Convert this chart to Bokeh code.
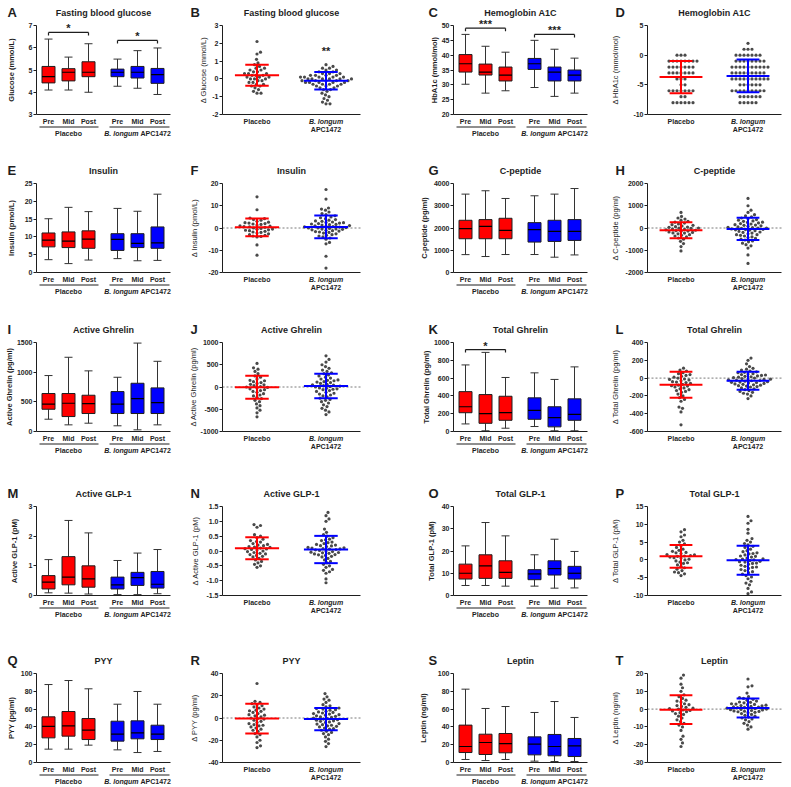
from bokeh.plotting import figure
from bokeh.models import Range1d, FixedTicker, Label, Arrow, ColumnDataSource
from bokeh.layouts import row, column
from bokeh.embed import file_html
from bokeh.resources import INLINE

# ======================= DATA =======================
timepoints = ["Pre", "Mid", "Post", "Pre", "Mid", "Post"]
group_placebo = "Placebo"
group_apc_italic = "B. longum"
group_apc_strain = "APC1472"

# ---- A  Fasting blood glucose (box: whisker low, Q1, median, Q3, whisker high)
glu_ticks = [3, 4, 5, 6, 7]
glu_lo = [4.10, 4.10, 4.00, 4.27, 4.18, 3.90]
glu_q1 = [4.42, 4.51, 4.70, 4.70, 4.64, 4.40]
glu_med = [4.70, 4.90, 4.90, 4.90, 4.90, 4.79]
glu_q3 = [5.16, 5.06, 5.37, 5.04, 5.16, 5.07]
glu_hi = [6.39, 5.58, 6.18, 5.49, 5.87, 5.99]
glu_sig = [(0, 2, 6.69, "*"), (3, 5, 6.33, "*")]

# ---- B  delta glucose
dglu_ticks = [-2, -1, 0, 1, 2, 3]
dglu_placebo = [2.1, 1.5, 1.4, 1.1, 0.9, 0.8, 0.7, 0.6, 0.6, 0.5, 0.5, 0.4, 0.4, 0.3, 0.3, 0.3, 0.2, 0.2, 0.2,
                0.1, 0.1, 0.1, 0.0, 0.0, 0.0, -0.1, -0.1, -0.2, -0.2, -0.3, -0.3, -0.4, -0.4, -0.5, -0.6, -0.7,
                -0.8, -0.8]
dglu_apc = [0.8, 0.7, 0.6, 0.6, 0.5, 0.5, 0.4, 0.4, 0.3, 0.3, 0.3, 0.2, 0.2, 0.2, 0.2, 0.1, 0.1, 0.1, 0.1, 0.1,
            0.0, 0.0, 0.0, 0.0, 0.0, 0.0, -0.1, -0.1, -0.1, -0.1, -0.1, -0.2, -0.2, -0.2, -0.2, -0.2, -0.3, -0.3,
            -0.3, -0.3, -0.4, -0.4, -0.4, -0.5, -0.5, -0.6, -0.6, -0.7, -0.8, -0.9, -1.0, -1.1, -1.2, -1.3, -1.4,
            -1.4]
dglu_mean = [0.20, -0.10]
dglu_sd = [0.59, 0.49]
dglu_star = (2, 1.55, "**")

# ---- C  Hemoglobin A1C
hba_ticks = [20, 25, 30, 35, 40, 45, 50]
hba_lo = [30.2, 27.2, 28.0, 29.1, 26.1, 27.2]
hba_q1 = [34.3, 33.3, 31.3, 35.2, 31.3, 31.3]
hba_med = [37.1, 34.3, 33.3, 37.1, 34.3, 33.3]
hba_q3 = [40.2, 37.0, 36.0, 38.9, 36.0, 35.0]
hba_hi = [47.0, 43.0, 41.0, 45.0, 42.0, 39.0]
hba_sig = [(0, 2, 49.1, "***"), (3, 5, 47.0, "***")]

# ---- D  delta HbA1c
dhba_ticks = [-10, -5, 0, 5]
dhba_placebo = [0, 0, 0, -1, -1, -1, -1, -1, -1, -1, -1, -2, -2, -2, -2, -2, -2, -2, -3, -3, -3, -3, -3, -3, -3,
                -4, -4, -4, -5, -5, -6, -6, -6, -6, -6, -6, -6, -7, -7, -8, -8, -8, -8, -8, -8]
dhba_apc = [2, 1, 1, 1, 0, 0, 0, 0, 0, 0, 0, -1, -1, -1, -1, -1, -1, -1, -1, -2, -2, -2, -2, -2, -2, -2, -2, -2,
            -2, -3, -3, -3, -3, -3, -3, -3, -3, -3, -4, -4, -4, -4, -4, -4, -4, -4, -4, -4, -5, -5, -5, -5, -5,
            -5, -6, -6, -6, -6, -6, -6, -6, -6, -6, -7, -7, -7, -7, -7, -7, -8, -8, -8, -8, -8]
dhba_mean = [-3.7, -3.5]
dhba_sd = [2.7, 2.75]

# ---- E  Insulin
ins_ticks = [0, 5, 10, 15, 20, 25]
ins_lo = [3.6, 2.5, 3.5, 3.9, 3.3, 3.4]
ins_q1 = [7.2, 7.0, 6.8, 6.2, 7.0, 6.8]
ins_med = [9.1, 8.8, 9.4, 9.3, 8.2, 8.3]
ins_q3 = [11.1, 11.4, 11.7, 10.9, 10.9, 12.8]
ins_hi = [15.1, 18.3, 17.1, 18.0, 17.2, 22.0]

# ---- F  delta insulin
dins_ticks = [-20, -10, 0, 10, 20]
dins_placebo = [14.0, 8.2, 4.5, 4.2, 3.8, 3.5, 3.0, 2.6, 2.4, 2.2, 2.0, 1.8, 1.6, 1.3, 1.0, 0.8, 0.6, 0.5, 0.3,
                0.0, -0.2, -0.5, -0.6, -0.8, -1.0, -1.2, -1.5, -1.8, -2.0, -2.3, -2.6, -3.0, -3.3, -3.6, -3.8,
                -4.0, -7.6, -12.2]
dins_apc = [17.3, 13.0, 9.0, 8.5, 8.0, 7.2, 6.5, 6.0, 5.5, 5.0, 4.6, 4.2, 3.8, 3.5, 3.2, 3.0, 2.7, 2.5, 2.4, 2.2,
            2.0, 1.8, 1.6, 1.5, 1.3, 1.1, 1.0, 0.8, 0.6, 0.5, 0.4, 0.2, 0.0, 0.0, -0.2, -0.4, -0.5, -0.6, -0.8,
            -1.0, -1.2, -1.4, -1.6, -1.8, -2.0, -2.3, -2.6, -3.0, -3.3, -3.6, -4.0, -4.5, -5.0, -6.5, -7.1,
            -12.7, -18.0]
dins_mean = [0.3, 0.5]
dins_sd = [4.0, 5.1]

# ---- G  C-peptide
cpep_ticks = [0, 1000, 2000, 3000, 4000]
cpep_lo = [804, 718, 808, 808, 688, 790]
cpep_q1 = [1517, 1517, 1517, 1367, 1397, 1442]
cpep_med = [1970, 2075, 1894, 1925, 1849, 1849]
cpep_q3 = [2347, 2377, 2437, 2241, 2347, 2377]
cpep_hi = [3523, 3674, 3327, 3448, 3523, 3774]

# ---- H  delta C-peptide
dcpep_ticks = [-2000, -1000, 0, 1000, 2000]
dcpep_placebo = [700, 520, 450, 400, 350, 300, 260, 220, 180, 150, 120, 90, 60, 40, 30, 0, -10, -20, -50, -60,
                 -80, -100, -120, -140, -150, -180, -200, -220, -230, -260, -300, -330, -360, -400, -450, -500,
                 -600, -700, -835, -1030]
dcpep_apc = [1330, 1000, 800, 700, 600, 550, 500, 450, 420, 380, 350, 320, 300, 260, 250, 230, 200, 180, 150, 130,
             120, 100, 80, 50, 30, 20, 0, -10, -20, -40, -60, -70, -80, -100, -120, -150, -180, -200, -230, -260,
             -300, -300, -330, -360, -400, -430, -460, -500, -540, -580, -620, -680, -750, -800, -900, -1210,
             -1590]
dcpep_mean = [-100, -40]
dcpep_sd = [360, 500]

# ---- I  Active ghrelin
agh_ticks = [0, 500, 1000, 1500]
agh_lo = [207, 112, 140, 96, 28, 112]
agh_q1 = [375, 252, 303, 303, 303, 303]
agh_med = [460, 476, 471, 460, 555, 488]
agh_q3 = [640, 640, 611, 673, 813, 735]
agh_hi = [943, 1251, 1022, 914, 1490, 1183]

# ---- J  delta active ghrelin
dagh_ticks = [-1000, -500, 0, 500, 1000]
dagh_placebo = [530, 430, 400, 350, 300, 250, 220, 180, 150, 140, 120, 100, 80, 60, 50, 30, 10, 0, -10, -20, -40,
                -60, -80, -100, -120, -150, -180, -200, -230, -260, -300, -330, -380, -420, -470, -520, -580, -670]
dagh_apc = [700, 620, 560, 500, 460, 420, 380, 350, 320, 300, 270, 250, 220, 200, 180, 160, 150, 140, 120, 110,
            100, 80, 60, 50, 40, 30, 20, 10, 0, -20, -30, -40, -50, -60, -80, -100, -120, -140, -160, -180, -200,
            -220, -250, -280, -300, -330, -360, -400, -440, -480, -520, -560, -620]
dagh_mean = [-5, 25]
dagh_sd = [260, 275]

# ---- K  Total ghrelin
tgh_ticks = [0, 200, 400, 600, 800, 1000]
tgh_lo = [85, 8, 37, 56, 8, 8]
tgh_q1 = [211, 92, 126, 137, 52, 126]
tgh_med = [278, 200, 211, 237, 156, 193]
tgh_q3 = [448, 415, 396, 378, 278, 367]
tgh_hi = [748, 889, 607, 659, 585, 726]
tgh_sig = [(0, 2, 920, "*")]

# ---- L  delta total ghrelin
dtgh_ticks = [-600, -400, -200, 0, 200, 400]
dtgh_placebo = [112, 90, 80, 60, 50, 40, 30, 20, 10, 0, -10, -15, -20, -30, -40, -45, -50, -60, -70, -80, -85,
                -90, -100, -110, -120, -130, -140, -150, -160, -180, -200, -220, -240, -260, -325, -340, -380,
                -525]
dtgh_apc = [225, 200, 160, 130, 110, 100, 90, 80, 70, 65, 60, 50, 45, 40, 35, 30, 25, 20, 15, 10, 5, 0, -5, -10,
            -12, -15, -20, -25, -28, -30, -35, -40, -45, -48, -50, -55, -60, -65, -70, -75, -80, -85, -90, -95,
            -100, -110, -120, -130, -140, -150, -160, -170, -180, -200, -230]
dtgh_mean = [-75, -30]
dtgh_sd = [145, 100]

# ---- M  Active GLP-1
aglp_ticks = [0, 1, 2, 3]
aglp_lo = [0.09, 0.08, 0.05, 0.03, 0.03, 0.06]
aglp_q1 = [0.22, 0.36, 0.28, 0.22, 0.34, 0.25]
aglp_med = [0.45, 0.62, 0.56, 0.36, 0.60, 0.38]
aglp_q3 = [0.67, 1.31, 1.00, 0.62, 0.78, 0.81]
aglp_hi = [1.21, 2.53, 2.11, 1.18, 1.43, 1.55]

# ---- N  delta active GLP-1
daglp_ticks = [-1.5, -1.0, -0.5, 0.0, 0.5, 1.0, 1.5]
daglp_placebo = [0.89, 0.86, 0.80, 0.55, 0.50, 0.45, 0.40, 0.35, 0.32, 0.30, 0.25, 0.22, 0.20, 0.18, 0.15, 0.13,
                 0.12, 0.10, 0.08, 0.07, 0.05, 0.03, 0.00, -0.02, -0.05, -0.08, -0.10, -0.12, -0.15, -0.18, -0.20,
                 -0.25, -0.30, -0.35, -0.40, -0.45, -0.50, -0.55]
daglp_apc = [1.30, 1.19, 1.08, 1.00, 0.74, 0.63, 0.55, 0.50, 0.45, 0.40, 0.38, 0.35, 0.30, 0.28, 0.25, 0.22, 0.20,
             0.18, 0.17, 0.15, 0.12, 0.11, 0.10, 0.08, 0.07, 0.06, 0.05, 0.04, 0.02, 0.00, -0.02, -0.04, -0.05,
             -0.06, -0.08, -0.10, -0.12, -0.13, -0.15, -0.18, -0.20, -0.25, -0.30, -0.35, -0.40, -0.45, -0.50,
             -0.55, -0.62, -0.65, -0.70, -0.75, -0.94, -1.07]
daglp_mean = [0.09, 0.05]
daglp_sd = [0.37, 0.46]

# ---- O  Total GLP-1
tglp_ticks = [0, 10, 20, 30, 40]
tglp_lo = [4.5, 4.5, 4.2, 4.2, 3.3, 3.4]
tglp_q1 = [7.4, 7.7, 7.7, 7.1, 9.2, 7.4]
tglp_med = [10.0, 13.3, 10.4, 9.7, 12.1, 10.0]
tglp_q3 = [14.1, 18.3, 15.6, 11.6, 15.6, 13.1]
tglp_hi = [22.3, 32.8, 26.8, 18.3, 25.3, 19.8]

# ---- P  delta total GLP-1
dtglp_ticks = [-10, -5, 0, 5, 10, 15]
dtglp_placebo = [8.5, 7.9, 7.0, 6.5, 5.5, 5.0, 4.5, 4.0, 3.5, 3.0, 2.7, 2.4, 2.1, 2.0, 1.8, 1.5, 1.4, 1.2, 1.1,
                 1.0, 0.8, 0.6, 0.5, 0.2, 0.0, -0.3, -0.6, -0.8, -1.0, -1.4, -1.8, -2.2, -2.6, -3.0, -3.4, -3.6,
                 -3.9, -4.4]
dtglp_apc = [12.2, 11.0, 10.3, 8.6, 7.5, 6.0, 5.5, 5.0, 4.6, 4.2, 3.8, 3.5, 3.0, 2.6, 2.3, 2.0, 1.8, 1.7, 1.4,
             1.1, 1.0, 0.8, 0.5, 0.3, 0.2, 0.1, 0.0, -0.2, -0.4, -0.5, -0.6, -0.9, -1.0, -1.2, -1.5, -1.8, -2.0,
             -2.1, -2.4, -2.7, -3.0, -3.3, -3.6, -4.0, -4.4, -4.8, -5.3, -6.0, -6.5, -7.0, -8.0, -9.0, -9.5]
dtglp_mean = [1.0, -0.1]
dtglp_sd = [3.2, 4.1]

# ---- Q  PYY
pyy_ticks = [0, 20, 40, 60, 80, 100]
pyy_lo = [15.0, 15.0, 19.5, 14.2, 11.2, 12.4]
pyy_q1 = [27.7, 29.6, 25.8, 24.0, 26.6, 25.8]
pyy_med = [40.5, 41.2, 36.3, 31.8, 33.3, 31.8]
pyy_q3 = [51.3, 57.3, 49.4, 46.4, 46.8, 41.9]
pyy_hi = [87.6, 92.1, 82.8, 65.5, 79.8, 65.5]

# ---- R  delta PYY
dpyy_ticks = [-40, -20, 0, 20, 40]
dpyy_placebo = [31, 15, 14, 13, 12, 11, 10, 9, 8, 7, 6.5, 6, 5, 4, 3, 2.5, 2, 1, 0, -0.5, -1, -2, -3, -4, -5, -6,
                -6.5, -7, -8, -9, -10, -11, -12, -14, -15, -17, -20, -22, -25, -26.6]
dpyy_apc = [22, 19, 17, 16, 14, 12, 11, 10, 9, 8.5, 8, 7.5, 7, 6, 5.5, 5, 4.5, 4, 3.5, 3, 2.5, 2, 1.5, 1, 0.5, 0,
            -0.5, -1, -1.5, -2, -2.5, -3, -3.5, -4, -5, -5.5, -6, -6.5, -7, -7.5, -8, -9, -9.5, -10, -11, -12,
            -13, -14, -15, -17, -19, -21, -23, -25.7]
dpyy_mean = [-0.5, -1.0]
dpyy_sd = [13.4, 10.0]

# ---- S  Leptin
lep_ticks = [0, 20, 40, 60, 80, 100]
lep_lo = [3.4, 2.2, 3.4, 1.5, 1.1, 1.1]
lep_q1 = [11.2, 9.0, 10.9, 8.6, 7.5, 6.7]
lep_med = [18.0, 22.5, 21.3, 20.6, 18.0, 18.7]
lep_q3 = [42.0, 31.8, 32.6, 28.8, 31.5, 27.0]
lep_hi = [82.4, 60.7, 62.9, 56.2, 68.5, 50.6]

# ---- T  delta leptin
dlep_ticks = [-30, -20, -10, 0, 10, 20]
dlep_placebo = [19.1, 17.4, 14, 12, 10, 8, 7, 6, 5, 4.5, 4, 3, 2.5, 2, 1.5, 1, 0.5, 0.3, 0, -0.5, -0.8, -1, -1.5,
                -2, -2.5, -3, -4, -5, -6, -7, -8, -9, -10, -12, -15.2, -17, -19, -21]
dlep_apc = [16.9, 13.1, 12.5, 9, 7, 6.5, 6, 5.5, 5, 4.5, 4, 3.8, 3.5, 3, 2.8, 2.6, 2.5, 2.2, 2, 1.8, 1.5, 1.2,
            1.1, 1, 0.8, 0.5, 0.3, 0.2, 0, -0.2, -0.3, -0.5, -0.8, -1, -1.2, -1.3, -1.5, -1.8, -2, -2.5, -3, -3.5,
            -4, -4.5, -5, -5.5, -6, -7, -8, -9, -10, -11.3]
dlep_mean = [-0.3, 0.6]
dlep_sd = [8.1, 5.3]

# ======================= STYLE / LAYOUT =======================
FONT = "Liberation Sans"
RED = "#ff0000"
BLUE = "#0000ff"
INK = "#1e1e1e"
WHISK = "#333333"
DOT = "#4a4a4a"

BOX_POS = [0, 1, 2, 3.45, 4.45, 5.45]
BOX_XR = (-0.6, 6.1)
DELTA_XR = (0.5, 2.5)
FH = 89
# (row height, space above the plotting area)
ROWS = [(161, 25), (159, 22), (164, 22), (167, 22), (134, 22)]
COLS = [dict(W=188, left=36, right=18, ldx=-29),
        dict(W=207, left=34, right=35, ldx=-32),
        dict(W=195, left=58, right=3, ldx=-25),
        dict(W=193, left=57, right=2, ldx=-32)]


def fmt_g(t):
    return "%g" % t


def fmt_1(t):
    return "%.1f" % t


def make_fig(c, rw, xr, yr):
    # The frame fills the whole canvas; the plotting area (xr x yr) sits inside it at the
    # wanted pixel offsets, and the axes are pinned to its edges with fixed_location/bounds.
    H, top = rw
    fw = c["W"] - c["left"] - c["right"]
    bottom = H - top - FH
    xpp = (xr[1] - xr[0]) / fw
    ypp = (yr[1] - yr[0]) / FH
    x_ext = (xr[0] - c["left"] * xpp, xr[1] + c["right"] * xpp)
    y_ext = (yr[0] - bottom * ypp, yr[1] + top * ypp)
    p = figure(width=c["W"], height=H, x_range=Range1d(*x_ext), y_range=Range1d(*y_ext),
               output_backend="svg", toolbar_location=None,
               min_border_left=0, min_border_right=0, min_border_top=0, min_border_bottom=0)
    p.xgrid.visible = False
    p.ygrid.visible = False
    p.outline_line_color = None
    p.background_fill_color = "white"
    p.border_fill_color = "white"
    p.yaxis[0].fixed_location = xr[0]
    p.yaxis[0].bounds = (yr[0], yr[1])
    p.xaxis[0].fixed_location = yr[0]
    p.xaxis[0].bounds = (xr[0], xr[1])
    return p


def lab(p, x, y, text, dx=0, dy=0, size="7px", style="bold", align="center", baseline="middle", color=INK):
    p.add_layout(Label(x=x, y=y, x_offset=dx, y_offset=dy, text=text, text_font=FONT,
                       text_font_size=size, text_font_style=style, text_align=align,
                       text_baseline=baseline, text_color=color))


def style_axes(p, ylabel, yticks, yfmt, ystand, label_style, xticks, xlabels):
    ya = p.yaxis[0]
    ya.ticker = FixedTicker(ticks=yticks, minor_ticks=[])
    ya.major_label_overrides = {t: yfmt(t) for t in yticks}
    ya.axis_label = ylabel
    ya.axis_label_text_font = FONT
    ya.axis_label_text_font_size = "7.5px"
    ya.axis_label_text_font_style = label_style
    ya.axis_label_text_color = INK
    ya.axis_label_standoff = int(ystand)
    ya.major_label_text_font = FONT
    ya.major_label_text_font_size = "7px"
    ya.major_label_text_font_style = "bold"
    ya.major_label_text_color = INK
    ya.major_label_standoff = 1
    ya.major_tick_out = 3
    ya.major_tick_in = 0
    ya.minor_tick_line_color = None
    ya.axis_line_color = INK
    ya.major_tick_line_color = INK
    xa = p.xaxis[0]
    xa.ticker = FixedTicker(ticks=xticks, minor_ticks=[])
    xa.major_label_overrides = {t: s for t, s in zip(xticks, xlabels)}
    xa.major_label_text_font = FONT
    xa.major_label_text_font_size = "7px"
    xa.major_label_text_font_style = "bold"
    xa.major_label_text_color = INK
    xa.major_label_standoff = 3
    xa.major_tick_out = 0
    xa.major_tick_in = 0
    xa.major_tick_line_color = None
    xa.minor_tick_line_color = None
    xa.axis_line_color = INK


def headers(p, c, xr, y1, letter, title):
    lab(p, xr[0], y1, letter, dx=c["ldx"], dy=13, size="13px", align="left")
    lab(p, (xr[0] + xr[1]) / 2, y1, title, dy=12.5, size="9px")


def box_panel(c, rw, letter, title, ylabel, ticks, lo, q1, med, q3, hi, sig, ystand):
    y0, y1 = ticks[0], ticks[-1]
    p = make_fig(c, rw, BOX_XR, (y0, y1))
    dpp = (y1 - y0) / FH  # data units per pixel (vertical)
    style_axes(p, ylabel, ticks, fmt_g, ystand, "bold", BOX_POS, timepoints)
    src = ColumnDataSource(dict(
        x=BOX_POS, xl=[x - 0.2 for x in BOX_POS], xr=[x + 0.2 for x in BOX_POS],
        bl=[x - 0.325 for x in BOX_POS], br=[x + 0.325 for x in BOX_POS],
        lo=lo, q1=q1, med=med, q3=q3, hi=hi, color=[RED] * 3 + [BLUE] * 3))
    for a, b in (("q3", "hi"), ("lo", "q1")):
        p.segment(x0="x", y0=a, x1="x", y1=b, source=src, line_color=WHISK, line_width=1)
    for yk in ("hi", "lo"):
        p.segment(x0="xl", y0=yk, x1="xr", y1=yk, source=src, line_color=WHISK, line_width=1)
    p.vbar(x="x", width=0.65, bottom="q1", top="q3", source=src, fill_color="color",
           line_color=INK, line_width=1)
    p.segment(x0="bl", y0="med", x1="br", y1="med", source=src, line_color="black", line_width=1.2)
    for (i, j, yb, txt) in sig:
        xa, xb = BOX_POS[i], BOX_POS[j]
        tick = 3 * dpp
        p.segment(x0=[xa, xa, xb], y0=[yb, yb, yb], x1=[xb, xa, xb], y1=[yb, yb - tick, yb - tick],
                  line_color=INK, line_width=1.2)
        lab(p, (xa + xb) / 2, yb, txt, dy=4, size="11px")
    # group underlines and group labels
    yu = y0 - 12.5 * dpp
    p.add_layout(Arrow(end=None, x_start=-0.45, y_start=yu, x_end=2.5, y_end=yu,
                       line_color=INK, line_width=1))
    p.add_layout(Arrow(end=None, x_start=3.05, y_start=yu, x_end=6.05, y_end=yu,
                       line_color=INK, line_width=1))
    lab(p, BOX_POS[1], y0, group_placebo, dy=-15, baseline="top")
    lab(p, BOX_POS[4], y0, group_apc_italic, dx=1, dy=-15, baseline="top", align="right", style="bold italic")
    lab(p, BOX_POS[4], y0, group_apc_strain, dx=3, dy=-15, baseline="top", align="left")
    headers(p, c, BOX_XR, y1, letter, title)
    return p


def swarm(vals, ppy, dia=3.7, step=0.5):
    order = sorted(range(len(vals)), key=lambda i: vals[i])
    placed = []
    out = [0.0] * len(vals)
    for i in order:
        y = vals[i] * ppy
        k = 0
        chosen = None
        while chosen is None:
            cands = [0.0] if k == 0 else [k * step, -k * step]
            for cnd in cands:
                if all((cnd - a) ** 2 + (y - b) ** 2 >= dia * dia for a, b in placed):
                    chosen = cnd
                    break
            k += 1
        placed.append((chosen, y))
        out[i] = chosen
    return out


def delta_panel(c, rw, letter, title, ylabel, ticks, plac, apc, means, sds, zero, ystand,
                fmt=fmt_g, star=None):
    y0, y1 = ticks[0], ticks[-1]
    p = make_fig(c, rw, DELTA_XR, (y0, y1))
    fw = c["W"] - c["left"] - c["right"]
    ppx = fw / (DELTA_XR[1] - DELTA_XR[0])
    ppy = FH / (y1 - y0)
    style_axes(p, ylabel, ticks, fmt, ystand, "normal", [1, 2], [group_placebo, " "])
    if zero:
        p.segment(x0=[DELTA_XR[0]], y0=[0], x1=[DELTA_XR[1]], y1=[0], line_color="#7a7a7a",
                  line_dash="2 2", line_width=1)
    for k, vals in enumerate([plac, apc]):
        offs = swarm(vals, ppy)
        xs = [k + 1 + o / ppx for o in offs]
        p.scatter(x=xs, y=vals, size=3.2, fill_color=DOT, line_color=None)
    cx = [1, 2]
    src = ColumnDataSource(dict(
        cx=cx, m=means, hi=[m + s for m, s in zip(means, sds)], lo=[m - s for m, s in zip(means, sds)],
        ml=[x - 0.32 for x in cx], mr=[x + 0.32 for x in cx],
        cl=[x - 0.17 for x in cx], cr=[x + 0.17 for x in cx], color=[RED, BLUE]))
    p.segment(x0="cx", y0="lo", x1="cx", y1="hi", source=src, line_color="color", line_width=2)
    p.segment(x0="ml", y0="m", x1="mr", y1="m", source=src, line_color="color", line_width=2)
    p.segment(x0="cl", y0="hi", x1="cr", y1="hi", source=src, line_color="color", line_width=2)
    p.segment(x0="cl", y0="lo", x1="cr", y1="lo", source=src, line_color="color", line_width=2)
    lab(p, 2, y0, group_apc_italic, dy=-3, baseline="top", style="bold italic")
    lab(p, 2, y0, group_apc_strain, dy=-11, baseline="top")
    if star is not None:
        lab(p, star[0], star[1], star[2], size="11px")
    headers(p, c, DELTA_XR, y1, letter, title)
    return p


C1, C2, C3, C4 = COLS
rows = []
R = ROWS[0]
rows.append(row(
    box_panel(C1, R, "A", "Fasting blood glucose", "Glucose (mmol/L)", glu_ticks,
              glu_lo, glu_q1, glu_med, glu_q3, glu_hi, glu_sig, 10),
    delta_panel(C2, R, "B", "Fasting blood glucose", "Δ Glucose (mmol/L)", dglu_ticks,
                dglu_placebo, dglu_apc, dglu_mean, dglu_sd, False, 1, star=dglu_star),
    box_panel(C3, R, "C", "Hemoglobin A1C", "HbA1c (mmol/mol)", hba_ticks,
              hba_lo, hba_q1, hba_med, hba_q3, hba_hi, hba_sig, 0),
    delta_panel(C4, R, "D", "Hemoglobin A1C", "Δ HbA1c (mmol/mol)", dhba_ticks,
                dhba_placebo, dhba_apc, dhba_mean, dhba_sd, False, 10),
))
R = ROWS[1]
rows.append(row(
    box_panel(C1, R, "E", "Insulin", "Insulin (pmol/L)", ins_ticks,
              ins_lo, ins_q1, ins_med, ins_q3, ins_hi, [], 6),
    delta_panel(C2, R, "F", "Insulin", "Δ Insulin (pmol/L)", dins_ticks,
                dins_placebo, dins_apc, dins_mean, dins_sd, True, 6),
    box_panel(C3, R, "G", "C-peptide", "C-peptide (pg/ml)", cpep_ticks,
              cpep_lo, cpep_q1, cpep_med, cpep_q3, cpep_hi, [], 2),
    delta_panel(C4, R, "H", "C-peptide", "Δ C-peptide (pg/ml)", dcpep_ticks,
                dcpep_placebo, dcpep_apc, dcpep_mean, dcpep_sd, True, 3),
))
R = ROWS[2]
rows.append(row(
    box_panel(C1, R, "I", "Active Ghrelin", "Active Ghrelin (pg/ml)", agh_ticks,
              agh_lo, agh_q1, agh_med, agh_q3, agh_hi, [], 0),
    delta_panel(C2, R, "J", "Active Ghrelin", "Δ Active Ghrelin (pg/ml)", dagh_ticks,
                dagh_placebo, dagh_apc, dagh_mean, dagh_sd, True, 0),
    box_panel(C3, R, "K", "Total Ghrelin", "Total Ghrelin (pg/ml)", tgh_ticks,
              tgh_lo, tgh_q1, tgh_med, tgh_q3, tgh_hi, tgh_sig, 0),
    delta_panel(C4, R, "L", "Total Ghrelin", "Δ Total Ghrelin (pg/ml)", dtgh_ticks,
                dtgh_placebo, dtgh_apc, dtgh_mean, dtgh_sd, True, 6),
))
R = ROWS[3]
rows.append(row(
    box_panel(C1, R, "M", "Active GLP-1", "Active GLP-1 (pM)", aglp_ticks,
              aglp_lo, aglp_q1, aglp_med, aglp_q3, aglp_hi, [], 7),
    delta_panel(C2, R, "N", "Active GLP-1", "Δ Active GLP-1 (pM)", daglp_ticks,
                daglp_placebo, daglp_apc, daglp_mean, daglp_sd, False, 3, fmt=fmt_1),
    box_panel(C3, R, "O", "Total GLP-1", "Total GLP-1 (pM)", tglp_ticks,
              tglp_lo, tglp_q1, tglp_med, tglp_q3, tglp_hi, [], 3),
    delta_panel(C4, R, "P", "Total GLP-1", "Δ Total GLP-1 (pM)", dtglp_ticks,
                dtglp_placebo, dtglp_apc, dtglp_mean, dtglp_sd, False, 10),
))
R = ROWS[4]
rows.append(row(
    box_panel(C1, R, "Q", "PYY", "PYY (pg/ml)", pyy_ticks,
              pyy_lo, pyy_q1, pyy_med, pyy_q3, pyy_hi, [], 2),
    delta_panel(C2, R, "R", "PYY", "Δ PYY (pg/ml)", dpyy_ticks,
                dpyy_placebo, dpyy_apc, dpyy_mean, dpyy_sd, True, 6),
    box_panel(C3, R, "S", "Leptin", "Leptin (ng/ml)", lep_ticks,
              lep_lo, lep_q1, lep_med, lep_q3, lep_hi, [], 7),
    delta_panel(C4, R, "T", "Leptin", "Δ Leptin (ng/ml)", dlep_ticks,
                dlep_placebo, dlep_apc, dlep_mean, dlep_sd, True, 10),
))

layout = column(*rows)
open("out.html", "w").write(file_html(layout, INLINE))
